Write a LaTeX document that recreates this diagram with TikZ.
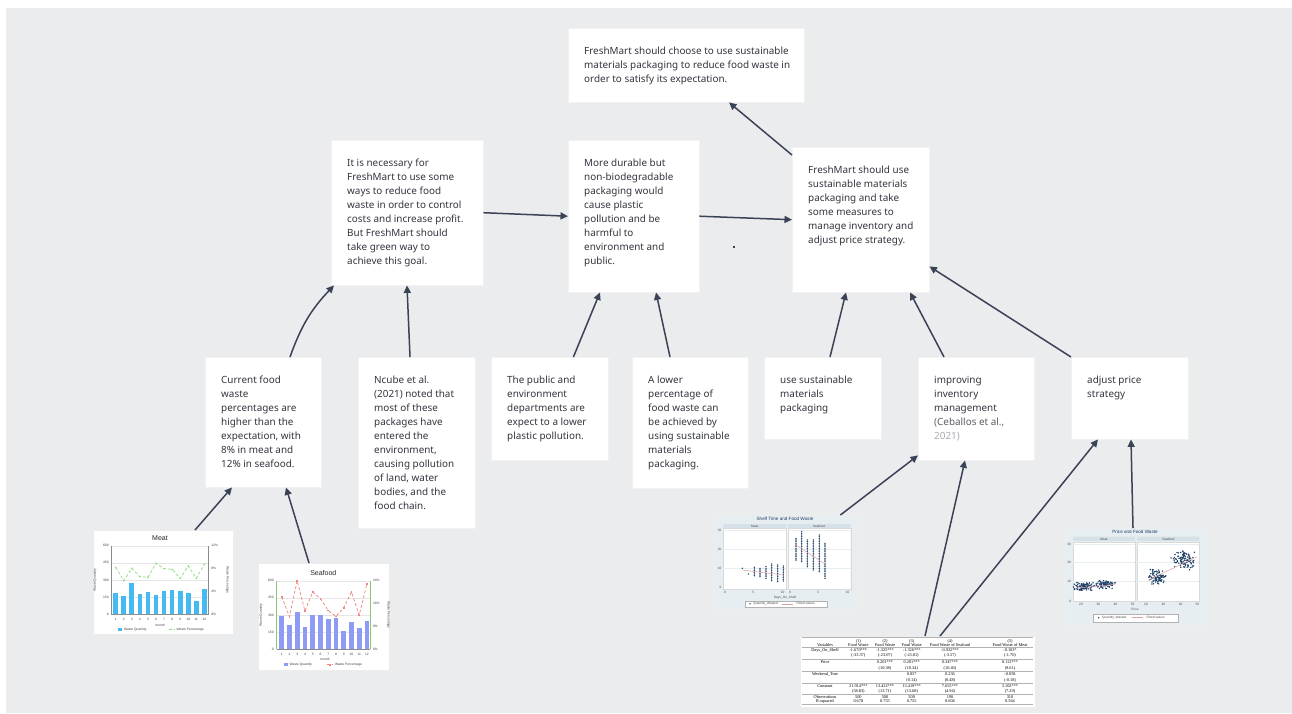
\documentclass[tikz,border=0pt]{standalone}
\usepackage{fontspec}
\setmainfont{Noto Sans}
\newfontfamily\chartfont{Liberation Sans}
\newfontfamily\tablefont{Liberation Serif}
\usetikzlibrary{arrows.meta}
\definecolor{boardgray}{HTML}{EBECEE}
\definecolor{inkgray}{HTML}{33363F}
\definecolor{citegray}{HTML}{A9ACB2}
\definecolor{linkslate}{HTML}{3A4256}
\definecolor{meatblue}{HTML}{45B9F2}
\definecolor{meatgreen}{HTML}{8EDC7C}
\definecolor{seablue}{HTML}{8E9BF5}
\definecolor{seared}{HTML}{F0857C}
\definecolor{seaaxis}{HTML}{86C77A}
\definecolor{statabg}{HTML}{E7EEF2}
\definecolor{statastrip}{HTML}{D6E0E7}
\definecolor{statanavy}{HTML}{1E3F66}
\definecolor{fitred}{HTML}{D9A0A0}
\tikzset{
  notebox/.style   ={fill=white, draw=black!5, inner sep=0pt, anchor=north west, text=inkgray},
  chartcard/.style ={fill=white, draw=black!7, inner sep=0pt, anchor=north west},
  statacard/.style ={chartcard, fill=statabg},
  linkarrow/.style ={-{Triangle[length=7.5pt,width=7pt]}, line width=1.5pt, draw=linkslate},
  axlab/.style     ={font=\chartfont\fontsize{3.3}{3.6}\selectfont, text=black!75, inner sep=0.5pt},
  charttitle/.style={font=\chartfont\fontsize{7}{8}\selectfont, text=black!85, inner sep=0pt},
  statalab/.style  ={font=\chartfont\fontsize{3.2}{3.6}\selectfont, text=black!70, inner sep=0.5pt},
  statatitle/.style={font=\chartfont\fontsize{4.6}{5}\selectfont, text=statanavy, inner sep=0pt},
  tcell/.style     ={font=\tablefont\fontsize{4.3}{5}\selectfont, inner sep=0pt},
}
\newcommand{\notefont}{\fontsize{9.9}{14}\selectfont}
\newcommand{\notetext}[3]{\parbox[t][#2][t]{#1}{\notefont\leftskip=16pt\rightskip=0pt plus 1fil\parfillskip=0pt plus 1fil\vspace*{19pt}#3}}

\begin{document}
\begin{tikzpicture}[x=1pt, y=-1pt]
  \useasboundingbox (0,0) rectangle (1292,713);
  \fill[white] (0,0) rectangle (1292,713);
  \fill[boardgray] (6,8) rectangle (1292,713);

  % notes
  \node[notebox] (goal) at (568,28) {\notetext{236pt}{74pt}{FreshMart should choose to use sustainable\\materials packaging to reduce food waste in\\order to satisfy its expectation.}};
  \node[notebox] (need) at (331,140) {\notetext{152pt}{145pt}{It is necessary for\\FreshMart to use some\\ways to reduce food\\waste in order to control\\costs and increase profit.\\But FreshMart should\\take green way to\\achieve this goal.}};
  \node[notebox] (plastic) at (568,140) {\notetext{131pt}{152pt}{More durable but\\non-biodegradable\\packaging would\\cause plastic\\pollution and be\\harmful to\\environment and\\public.}};
  \node[notebox] (measures) at (792,147) {\notetext{137pt}{145pt}{FreshMart should use\\sustainable materials\\packaging and take\\some measures to\\manage inventory and\\adjust price strategy.}};
  \node[notebox] (gap) at (205,357) {\notetext{116pt}{130pt}{Current food\\waste\\percentages are\\higher than the\\expectation, with\\8\% in meat and\\12\% in seafood.}};
  \node[notebox] (ncube) at (358,357) {\notetext{117pt}{171pt}{Ncube et al.\\(2021) noted that\\most of these\\packages have\\entered the\\environment,\\causing pollution\\of land, water\\bodies, and the\\food chain.}};
  \node[notebox] (public) at (491,357) {\notetext{117pt}{103pt}{The public and\\environment\\departments are\\expect to a lower\\plastic pollution.}};
  \node[notebox] (lower) at (632,357) {\notetext{116pt}{131pt}{A lower\\percentage of\\food waste can\\be achieved by\\using sustainable\\materials\\packaging.}};
  \node[notebox] (usepack) at (764,357) {\notetext{117pt}{82pt}{use sustainable\\materials\\packaging}};
  \node[notebox] (inventory) at (918,357) {\notetext{116pt}{103pt}{improving\\inventory\\management\\\textcolor{inkgray!80}{(Ceballos et al.,}\\\textcolor{citegray}{2021)}}};
  \node[notebox] (pricing) at (1071,357) {\notetext{117pt}{82pt}{adjust price\\strategy}};
  \fill[linkslate] (733,246) rectangle (735,248);

  % evidence cards
  \node[chartcard, minimum width=140pt, minimum height=104pt] (meatchart) at (93,530) {};
  \node[chartcard, minimum width=131pt, minimum height=107pt] (seachart) at (258,563) {};
  \node[statacard, minimum width=142pt, minimum height=93pt] (shelfplot) at (714,515) {};
  \node[statacard, minimum width=142pt, minimum height=96pt] (priceplot) at (1065,528) {};
  \node[chartcard, minimum width=235pt, minimum height=71pt] (regtable) at (800,636) {};

  % meat chart
  \begin{scope}[shift={(90,525)}, scale=1/3]
    \node[charttitle] (meattitle) at (210,38) {Meat};
    \foreach \gy in {62,113,165,216} \draw[black!10, line width=0.3pt] (65,\gy) -- (355,\gy);
    \foreach \bt [count=\i] in {205,213,175,208,202,210,198,196,199,205,227,193}
      \fill[meatblue] ({70+24.2*(\i-1)},\bt) rectangle ++(14,267-\bt);
    \draw[black!45, line width=0.4pt] (65,62) -- (65,267) -- (355,267) -- (355,62);
    \draw[meatgreen, densely dashed, line width=0.7pt] (77,127) -- (101.2,167) -- (125.4,130) -- (149.6,155) -- (173.8,157) -- (198,115) -- (222.2,131) -- (246.4,133) -- (270.6,160) -- (294.8,123) -- (319,160) -- (343.2,118);
    \foreach \px/\py in {77/127,101.2/167,125.4/130,149.6/155,173.8/157,198/115,222.2/131,246.4/133,270.6/160,294.8/123,319/160,343.2/118}
      \fill[meatgreen] (\px,\py) circle (2.6);
    \foreach \v/\gy in {0/267,150/216,300/165,450/113,600/62}
      \node[axlab, anchor=east] (meatq\v) at (58,\gy) {\v};
    \foreach \v/\gy in {0/267,4/199,8/130,12/62}
      \node[axlab, anchor=west] (meatp\v) at (362,\gy) {\v\%};
    \foreach \i in {1,...,12}
      \node[axlab] (meatm\i) at ({77+24.2*(\i-1)},282) {\i};
    \node[axlab] (meatx) at (210,300) {month};
    \node[axlab, rotate=90] (meatyl) at (15,165) {Waste Quantity};
    \node[axlab, rotate=-90] (meatyr) at (412,165) {Waste Percentage};
    \fill[meatblue] (85,309) rectangle (97,318);
    \node[axlab, anchor=west] (meatlq) at (100,313.5) {Waste Quantity};
    \draw[meatgreen, densely dashed, line width=0.5pt] (236,313.5) -- (254,313.5);
    \fill[meatgreen] (245,313.5) circle (2.4);
    \node[axlab, anchor=west] (meatlp) at (258,313.5) {Waste Percentage};
  \end{scope}

  % seafood chart
  \begin{scope}[shift={(255,560)}, scale=1/3]
    \node[charttitle] (seatitle) at (205,38) {Seafood};
    \foreach \gy in {62,113.5,165,216.5} \draw[black!10, line width=0.3pt] (65,\gy) -- (345,\gy);
    \foreach \bt [count=\i] in {168,195,155,200,166,166,177,173,214,187,205,183}
      \fill[seablue] ({73+23.27*(\i-1)},\bt) rectangle ++(14,268-\bt);
    \draw[black!45, line width=0.4pt] (65,268) -- (345,268);
    \draw[seaaxis, line width=0.6pt] (65,62) -- (65,268) (345,62) -- (345,268);
    \draw[seared, densely dashed, line width=0.7pt] (80,110) -- (103.3,170) -- (126.5,62) -- (149.8,153) -- (173.1,96) -- (196.4,116) -- (219.6,151) -- (242.9,169) -- (266.2,143) -- (289.4,96) -- (312.7,165) -- (336,71);
    \foreach \px/\py in {80/110,103.3/170,126.5/62,149.8/153,173.1/96,196.4/116,219.6/151,242.9/169,266.2/143,289.4/96,312.7/165,336/71}
      \fill[seared] (\px-2.5,\py-2.5) rectangle ++(5,5);
    \foreach \v/\gy in {0/268,150/216.5,300/165,450/113.5,600/62}
      \node[axlab, anchor=east] (seaq\v) at (58,\gy) {\v};
    \foreach \v/\gy in {0/268,8/199.3,16/130.7,24/62}
      \node[axlab, anchor=west] (seap\v) at (352,\gy) {\v\%};
    \foreach \i in {1,...,12}
      \node[axlab] (seam\i) at ({80+23.27*(\i-1)},283) {\i};
    \node[axlab] (seax) at (210,298) {month};
    \node[axlab, rotate=90] (seayl) at (18,165) {Waste Quantity};
    \node[axlab, rotate=-90] (seayr) at (400,165) {Waste Percentage};
    \fill[seablue] (88,309.5) rectangle (99,318.5);
    \node[axlab, anchor=west] (sealq) at (102,314) {Waste Quantity};
    \draw[seared, densely dashed, line width=0.5pt] (216,314) -- (234,314);
    \fill[seared] (222.5,311.5) rectangle ++(5,5);
    \node[axlab, anchor=west] (sealp) at (238,314) {Waste Percentage};
  \end{scope}

  % shelf time scatter
  \begin{scope}[shift={(710,510)}, scale=1/3]
    \node[statatitle] (shelftitle) at (225,28) {Shelf Time and Food Waste};
    \fill[statastrip] (40,42) rectangle (228,55) (233,42) rectangle (422,55);
    \node[statalab] (shelfsm) at (134,48.5) {Meat};
    \node[statalab] (shelfss) at (327,48.5) {Seafood};
    \filldraw[fill=white, draw=black!15, line width=0.2pt] (40,55) rectangle (228,237) (233,55) rectangle (422,237);
    \foreach \gy in {62,118,175} \draw[statabg, line width=0.4pt] (40,\gy) -- (228,\gy) (233,\gy) -- (422,\gy);
    \foreach \v/\gy in {0/232,10/175,20/118,30/62}
      \node[statalab, anchor=east] (shelfy\v) at (36,\gy) {\v};
    \foreach \v/\gx in {0/45,5/130,10/218}
      \node[statalab] (shelfxm\v) at (\gx,246) {\v};
    \foreach \v/\gx in {0/240,5/325,10/413}
      \node[statalab] (shelfxs\v) at (\gx,246) {\v};
    \node[statalab] (shelfxl) at (225,262) {Days\_On\_Shelf};
    \foreach \dx/\lo/\n in {97/175/0,115/192/0,133/172/5,150/175/5,168/170/7,185/162/10,203/165/10,220/168/9}
      \foreach \k in {0,...,\n} \fill[statanavy] (\dx,\lo+5*\k) circle (2.4);
    \foreach \dx/\lo/\n in {258/85/13,275/65/18,292/90/16,310/90/18,328/75/22,345/100/21}
      \foreach \k in {0,...,\n} \fill[statanavy] (\dx,\lo+5*\k) circle (2.4);
    \draw[fitred, line width=0.5pt] (97,180) -- (220,195) (258,105) -- (345,162);
    \filldraw[fill=white, draw=black!30, line width=0.2pt] (105,273) rectangle (350,290);
    \fill[statanavy] (120,281.5) circle (2.4);
    \node[statalab, anchor=west] (shelfleg1) at (128,281.5) {Quantity\_Wasted};
    \draw[fitred, line width=0.5pt] (215,281.5) -- (250,281.5);
    \node[statalab, anchor=west] (shelfleg2) at (258,281.5) {Fitted values};
  \end{scope}

  % price scatter
  \begin{scope}[shift={(1060,525)}, scale=1/3]
    \pgfmathsetseed{42}
    \node[statatitle] (pricetitle) at (225,20) {Price and Food Waste};
    \fill[statastrip] (40,35) rectangle (225,50) (232,35) rectangle (418,50);
    \node[statalab] (pricesm) at (132,42.5) {Meat};
    \node[statalab] (pricess) at (325,42.5) {Seafood};
    \filldraw[fill=white, draw=black!15, line width=0.2pt] (40,50) rectangle (225,228) (232,50) rectangle (418,228);
    \foreach \gy in {58,112,170} \draw[statabg, line width=0.4pt] (40,\gy) -- (225,\gy) (232,\gy) -- (418,\gy);
    \foreach \v/\gy in {0/228,10/170,20/112,30/58}
      \node[statalab, anchor=east] (pricey\v) at (35,\gy) {\v};
    \foreach \v/\gx in {20/63,30/115,40/166,50/218}
      \node[statalab] (pricexm\v) at (\gx,238) {\v};
    \foreach \v/\gx in {20/258,30/310,40/362,50/412}
      \node[statalab] (pricexs\v) at (\gx,238) {\v};
    \node[statalab] (pricexl) at (225,252) {Price};
    \foreach \cx/\cy/\sx/\sy/\n in {72/185/34/14/90,132/178/36/14/80,292/155/30/26/90,372/105/42/30/100}
      \foreach \k in {1,...,\n}
        \fill[statanavy] ({\cx+\sx*(rand+rand)/2},{\cy+\sy*(rand+rand)/2}) circle (2.4);
    \draw[fitred, line width=0.5pt] (45,190) -- (165,178) (265,165) -- (412,95);
    \filldraw[fill=white, draw=black!30, line width=0.2pt] (100,266) rectangle (355,290);
    \fill[statanavy] (116,278) circle (2.4);
    \node[statalab, anchor=west] (priceleg1) at (124,278) {Quantity\_Wasted};
    \draw[fitred, line width=0.5pt] (215,278) -- (250,278);
    \node[statalab, anchor=west] (priceleg2) at (258,278) {Fitted values};
  \end{scope}

  % regression table
  \begin{scope}[shift={(795,630)}, scale=1/3]
    \foreach \ry in {22,52,88,123,158,193,222} \draw[black!30, line width=0.25pt] (20,\ry) -- (715,\ry);
    \foreach \ry/\ca/\cb/\cc/\cd/\ce/\cf [count=\ri] in {
      33/{}/{(1)}/{(2)}/{(3)}/{(4)}/{(5)},
      45/Variables/Food Waste/Food Waste/Food Waste/Food Waste of Seafood/Food Waste of Meat,
      60/Days\_On\_Shelf/-1.670***/-1.325***/-1.326***/-0.932***/-0.103*,
      75/{}/{(-33.37)}/{(-23.07)}/{(-23.81)}/{(-3.57)}/{(-1.70)},
      97/Price/{}/0.201***/0.201***/0.347***/0.112***,
      115/{}/{}/{(10.38)}/{(10.34)}/{(10.40)}/{(9.61)},
      132/Weekend\_True/{}/{}/0.037/0.236/-0.058,
      150/{}/{}/{}/{(0.14)}/{(0.48)}/{(-0.18)},
      168/Constant/21.914***/13.422***/13.419***/7.655***/3.102***,
      185/{}/{(58.83)}/{(13.71)}/{(13.68)}/{(4.94)}/{(7.29)},
      200/Observations/500/500/500/190/310,
      213/R-squared/0.678/0.755/0.755/0.604/0.564}
      \foreach \cx/\ct [count=\ci] in {90/\ca,190/\cb,270/\cc,350/\cd,465/\ce,645/\cf}
        \node[tcell] (tbl\ri-\ci) at (\cx,\ry) {\ct};
  \end{scope}

  % links
  \draw[linkarrow] ([xshift=85pt]gap.north west) to[bend left=12] ([xshift=3pt]need.south west);
  \draw[linkarrow] ([xshift=52pt]ncube.north west) -- ([xshift=76pt]need.south west);
  \draw[linkarrow] (need.east) -- (plastic.west);
  \draw[linkarrow] ([xshift=-35pt]public.north east) -- ([xshift=32pt]plastic.south west);
  \draw[linkarrow] ([xshift=38pt]lower.north west) -- ([xshift=88pt]plastic.south west);
  \draw[linkarrow] (plastic.east) -- (measures.west);
  \draw[linkarrow] ([yshift=-8pt]measures.north west) -- ([xshift=161pt]goal.south west);
  \draw[linkarrow] ([xshift=66pt]usepack.north west) -- ([xshift=54pt]measures.south west);
  \draw[linkarrow] ([xshift=26pt]inventory.north west) -- ([xshift=118pt]measures.south west);
  \draw[linkarrow] (pricing.north west) -- ([yshift=26pt]measures.south east);
  \draw[linkarrow] ([xshift=102pt]meatchart.north west) -- ([xshift=27pt]gap.south west);
  \draw[linkarrow] ([xshift=51pt]seachart.north west) -- ([xshift=81pt]gap.south west);
  \draw[linkarrow] ([xshift=-16pt]shelfplot.north east) -- ([yshift=5pt]inventory.south west);
  \draw[linkarrow] ([xshift=125pt]regtable.north west) -- ([xshift=47pt]inventory.south west);
  \draw[linkarrow] ([xshift=140pt]regtable.north west) -- ([xshift=27pt]pricing.south west);
  \draw[linkarrow] ([xshift=68pt]priceplot.north west) -- ([xshift=60pt]pricing.south west);
\end{tikzpicture}
\end{document}
